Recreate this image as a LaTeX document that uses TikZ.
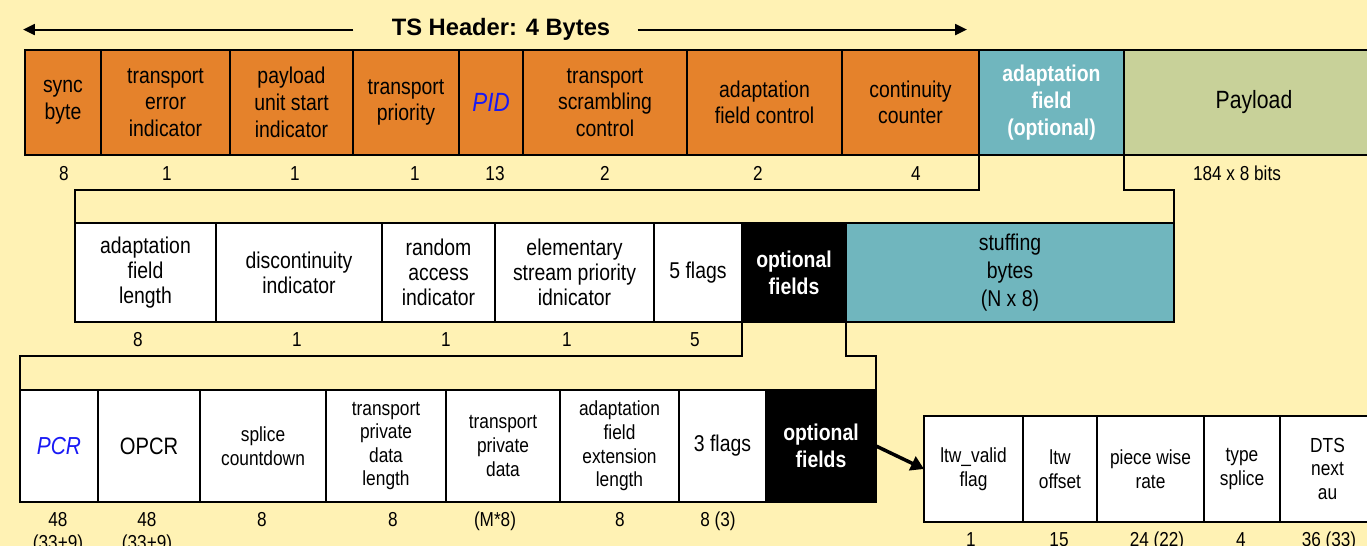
\documentclass[tikz,border=0pt]{standalone}
\usepackage{fontspec}
\setmainfont{Liberation Sans}[FakeStretch=0.85]
\newfontfamily\titlefont{Liberation Sans}
\usetikzlibrary{arrows.meta, positioning}

\definecolor{bgyellow}{RGB}{255,242,180}
\definecolor{tsorange}{RGB}{229,130,43}
\definecolor{afteal}{RGB}{112,182,190}
\definecolor{plgreen}{RGB}{200,209,153}
\definecolor{pidblue}{RGB}{25,25,245}

\begin{document}
\begin{tikzpicture}[x=0.02cm, y=-0.02cm,
  field/.style={draw=black, line width=1.2pt, outer sep=0pt, inner sep=1pt,
    anchor=north west, align=center, font=\fontsize{13}{15.2}\selectfont},
  wpx/.style={minimum width=#1*0.02cm},
  rowa/.style={field, fill=tsorange, minimum height=2.1cm},
  rowb/.style={field, fill=white, minimum height=1.98cm, font=\fontsize{13}{14.3}\selectfont},
  rowc/.style={field, fill=white, minimum height=2.24cm, font=\fontsize{11.6}{13.4}\selectfont},
  rowd/.style={field, fill=white, minimum height=2.12cm, font=\fontsize{11.6}{13.4}\selectfont},
  optbox/.style={fill=black, text=white, font=\bfseries\fontsize{13}{15.5}\selectfont},
  bluename/.style={text=pidblue, font=\itshape\fontsize{14}{16}\selectfont},
  num/.style={anchor=north, inner sep=0pt, align=center, font=\fontsize{11.5}{13.4}\selectfont},
  link/.style={line width=1.2pt},
  hdrarrow/.style={line width=1.2pt, -{Triangle[length=0.24cm, width=0.22cm]}},
  bigarrow/.style={line width=2pt, -{Triangle[length=0.26cm, width=0.3cm]}}]

\fill[bgyellow] (0,0) rectangle (1367,546);
\useasboundingbox (0,0) rectangle (1367,546);

% header title with its two arrows
\node[anchor=base, inner sep=0pt, font=\titlefont\bfseries\fontsize{13.5}{16}\selectfont] (title) at (501,35.7) {TS Header: 4 Bytes};
\coordinate (hleft) at (23,29);
\coordinate (hright) at (967,29);
\draw[hdrarrow, shorten <=0.76cm] (title.west) -- (title.west -| hleft);
\draw[hdrarrow, shorten <=0.54cm] (title.east) -- (title.east -| hright);

% transport stream packet
\node[rowa, wpx=76]  (sync)  at (25,50)  {sync\\byte};
\node[rowa, wpx=129] (tei)   at (101,50) {transport\\error\\indicator};
\node[rowa, wpx=123] (pusi)  at (230,50) {payload\\unit start\\indicator};
\node[rowa, wpx=106] (tprio) at (353,50) {transport\\priority};
\node[rowa, wpx=64, text=pidblue, font=\itshape\fontsize{15}{17}\selectfont] (pid) at (459,50) {PID};
\node[rowa, wpx=164] (tsc)   at (523,50) {transport\\scrambling\\control};
\node[rowa, wpx=155] (afc)   at (687,50) {adaptation\\field control};
\node[rowa, wpx=137] (cc)    at (842,50) {continuity\\counter};
\node[rowa, wpx=145, fill=afteal, text=white, font=\bfseries\fontsize{13}{15.2}\selectfont] (af) at (979,50) {adaptation\\field\\(optional)};
\node[rowa, wpx=260, fill=plgreen, font=\fontsize{14.2}{16}\selectfont] (payload) at (1124,50) {Payload};

\node[num] (n-sync)  at (64,166)   {8};
\node[num] (n-tei)   at (167,166)  {1};
\node[num] (n-pusi)  at (295,166)  {1};
\node[num] (n-tprio) at (415,166)  {1};
\node[num] (n-pid)   at (495,166)  {13};
\node[num] (n-tsc)   at (605,166)  {2};
\node[num] (n-afc)   at (758,166)  {2};
\node[num] (n-cc)    at (916,166)  {4};
\node[num] (n-payload) at (1237,166) {184 x 8 bits};

% adaptation field
\node[rowb, wpx=141] (afl)   at (75,223)  {adaptation\\field\\length};
\node[rowb, wpx=166] (disc)  at (216,223) {discontinuity\\indicator};
\node[rowb, wpx=113] (rai)   at (382,223) {random\\access\\indicator};
\node[rowb, wpx=159] (espi)  at (495,223) {elementary\\stream priority\\idnicator};
\node[rowb, wpx=88]  (flagsa) at (654,223) {5 flags};
\node[rowb, wpx=104, optbox] (opta) at (742,223) {optional\\fields};
\node[rowb, wpx=328, fill=afteal, font=\fontsize{13}{16}\selectfont] (stuff) at (846,223) {stuffing\\bytes\\(N x 8)};

\node[num] (n-afl)    at (138,332) {8};
\node[num] (n-disc)   at (297,332) {1};
\node[num] (n-rai)    at (446,332) {1};
\node[num] (n-espi)   at (567,332) {1};
\node[num] (n-flagsa) at (695,332) {5};

\draw[link] (af.south west) -- ++(0,35) -| (afl.north west);
\draw[link] (af.south east) -- ++(0,35) -| (stuff.north east);

% optional fields
\node[rowc, wpx=78, bluename] (pcr) at (20,390) {PCR};
\node[rowc, wpx=102, font=\fontsize{13.5}{16}\selectfont] (opcr) at (98,390) {OPCR};
\node[rowc, wpx=126] (splice) at (200,390) {splice\\countdown};
\node[rowc, wpx=120] (tpdl)  at (326,390) {transport\\private\\data\\length};
\node[rowc, wpx=114] (tpd)   at (446,390) {transport\\private\\data};
\node[rowc, wpx=119] (afel)  at (560,390) {adaptation\\field\\extension\\length};
\node[rowc, wpx=87, font=\fontsize{13}{15}\selectfont] (flagsb) at (679,390) {3 flags};
\node[rowc, wpx=110, optbox] (optb) at (766,390) {optional\\fields};

\node[num] (n-pcr)    at (58,512)  {48\\(33+9)};
\node[num] (n-opcr)   at (147,512) {48\\(33+9)};
\node[num] (n-splice) at (262,512) {8};
\node[num] (n-tpdl)   at (393,512) {8};
\node[num] (n-tpd)    at (495,512) {(M*8)};
\node[num] (n-afel)   at (620,512) {8};
\node[num] (n-flagsb) at (718,512) {8 (3)};

\draw[link] (opta.south west) -- ++(0,34) -| (pcr.north west);
\draw[link] (opta.south east) -- ++(0,34) -| (optb.north east);

% extension fields
\node[rowd, wpx=99]  (ltwv) at (924,416)  {ltw\_valid\\flag};
\node[rowd, wpx=74]  (ltwo) at (1023,416) {ltw\\offset};
\node[rowd, wpx=107] (pwr)  at (1097,416) {piece wise\\rate};
\node[rowd, wpx=76]  (tspl) at (1204,416) {type\\splice};
\node[rowd, wpx=95]  (dts)  at (1280,416) {DTS\\next\\au};

\node[num] (n-ltwv) at (971,532)  {1};
\node[num] (n-ltwo) at (1059,532) {15};
\node[num] (n-pwr)  at (1157,532) {24 (22)};
\node[num] (n-tspl) at (1241,532) {4};
\node[num] (n-dts)  at (1329,532) {36 (33)};

\draw[bigarrow] (optb.east) -- (ltwv.west);
\end{tikzpicture}
\end{document}
